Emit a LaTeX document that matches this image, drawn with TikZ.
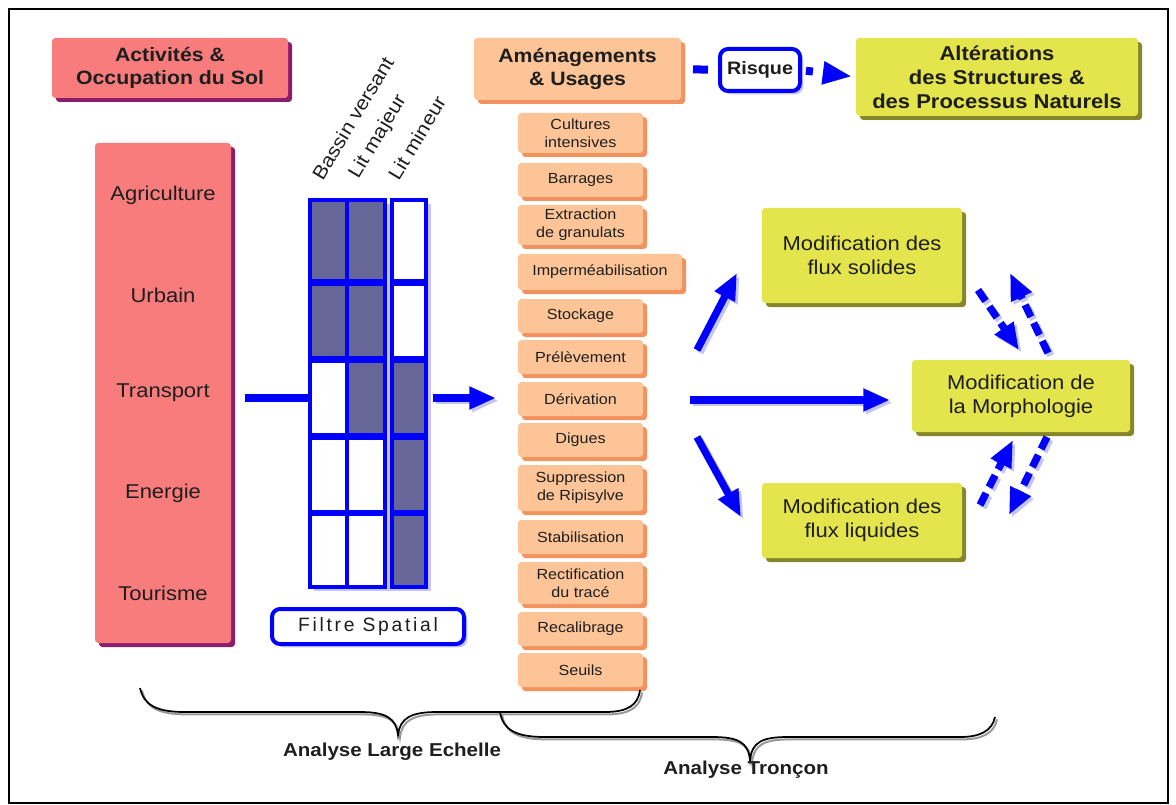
\documentclass[tikz,border=0pt]{standalone}
\usepackage{fontspec}
\setmainfont{Liberation Sans}[FakeStretch=1.1]
\newfontfamily\spacedfont{Liberation Sans}[LetterSpace=14]
\usetikzlibrary{shadows,arrows.meta,calc}
\definecolor{pinkc}{HTML}{F87C7C}
\definecolor{pinksh}{HTML}{8C1C6C}
\definecolor{orc}{HTML}{FDC597}
\definecolor{orsh}{HTML}{F3925E}
\definecolor{yelc}{HTML}{E4E44C}
\definecolor{yelsh}{HTML}{86862A}
\definecolor{dk}{HTML}{666699}
\definecolor{bl}{HTML}{0000FF}
\definecolor{shbl}{HTML}{C4C4F6}
\definecolor{txt}{HTML}{1E1E1E}
\begin{document}
\begin{tikzpicture}[x=0.75pt,y=-0.75pt,
  wh/.style 2 args={minimum width=#1*0.75pt, minimum height=#2*0.75pt},
  base/.style={inner sep=0pt, outer sep=0pt, align=center, anchor=north west, rounded corners=2.5pt, text=txt},
  pinkbox/.style={base, fill=pinkc, drop shadow={shadow xshift=3pt,shadow yshift=-3pt,fill=pinksh,opacity=1}},
  orbox/.style={base, fill=orc, drop shadow={shadow xshift=3pt,shadow yshift=-3pt,fill=orsh,opacity=1}},
  yelbox/.style={base, fill=yelc, drop shadow={shadow xshift=3pt,shadow yshift=-3pt,fill=yelsh,opacity=1}},
  bluebox/.style={base, fill=white, draw=bl, line width=3pt, rounded corners=6pt, drop shadow={shadow xshift=2.5pt,shadow yshift=-2.5pt,fill=shbl,opacity=1}},
  head/.style={font=\bfseries\fontsize{14.5}{17.5}\selectfont},
  item/.style={orbox, font=\fontsize{11}{13.5}\selectfont},
  mod/.style={yelbox, font=\fontsize{15}{18}\selectfont},
  lab/.style={font=\fontsize{15}{18}\selectfont, text=txt},
  rot/.style={font=\fontsize{14.5}{16}\selectfont, rotate=59, anchor=south west, inner sep=0pt, text=txt},
  cell/.style={draw=bl, line width=3pt, inner sep=0pt, outer sep=0pt, anchor=north west},
  arr/.style={draw=bl, line width=5.5pt, -{Triangle[length=20pt,width=16pt]}},
  arrsh/.style={draw=shbl, line width=5.5pt, -{Triangle[length=20pt,width=16pt]}, transform canvas={shift={(2pt,-2pt)}}},
  darr/.style={arr, dash pattern=on 10pt off 5pt},
  darrsh/.style={arrsh, dash pattern=on 10pt off 5pt},
  brace/.style={draw=black, line width=1.3pt},
  bracesh/.style={draw=black!40, line width=1.5pt, transform canvas={shift={(1.5pt,-1.8pt)}}},
  blab/.style={font=\bfseries\fontsize{14}{17}\selectfont, text=txt}
]
\useasboundingbox (0,0) rectangle (1176,805);
\draw[line width=2.2pt] (9,9) rectangle (1168,803);

% headings
\node[pinkbox, head, wh={236}{60}] (act) at (52,38) {Activités \&\\Occupation du Sol};
\node[orbox, head, wh={207}{62}] (amen) at (474,38) {Aménagements\\\& Usages};
\node[bluebox, wh={80}{42}, font=\bfseries\fontsize{13.5}{15}\selectfont] (risque) at (720,49) {Risque};
\node[yelbox, head, font=\bfseries\fontsize{15}{18}\selectfont, wh={282}{78}] (alter) at (856,38) {Altérations\\des Structures \&\\des Processus Naturels};

% top dashed connectors
\draw[draw=bl, line width=6pt, dash pattern=on 0pt off 9pt on 11.25pt off 40pt] (amen.east) -- (risque.west);
\draw[draw=bl, line width=6pt, dash pattern=on 0pt off 4.5pt on 5.25pt off 30pt,
  -{Triangle[length=22pt,width=16pt]}, shorten >=3pt] (risque.east) -- (alter.west);

% left activity column
\node[pinkbox, wh={136}{500}] (occ) at (95,143) {};
\node[lab] (ag) at (163,195) {Agriculture};
\node[lab] (ur) at (163,295) {Urbain};
\node[lab] (tr) at (163,393) {Transport};
\node[lab] (en) at (163,493) {Energie};
\node[lab] (to) at (163,593) {Tourisme};

% rotated headers
\node[rot] (bv) at (323,182) {Bassin versant};
\node[rot] (lma) at (362,182) {Lit majeur};
\node[rot] (lmi) at (399,182) {Lit mineur};

% grid
\fill[shbl] (314,204) rectangle (431,591);
\node[cell, fill=dk, wh={37}{81}] (c11) at (310,200) {};
\node[cell, fill=dk, wh={38}{81}] (c12) at (347,200) {};
\node[cell, fill=white, wh={34}{81}] (c13) at (392,200) {};
\node[cell, fill=dk, wh={37}{74}] (c21) at (310,284) {};
\node[cell, fill=dk, wh={38}{74}] (c22) at (347,284) {};
\node[cell, fill=white, wh={34}{74}] (c23) at (392,284) {};
\node[cell, fill=white, wh={37}{74}] (c31) at (310,361) {};
\node[cell, fill=dk, wh={38}{74}] (c32) at (347,361) {};
\node[cell, fill=dk, wh={34}{74}] (c33) at (392,361) {};
\node[cell, fill=white, wh={37}{74}] (c41) at (310,438) {};
\node[cell, fill=white, wh={38}{74}] (c42) at (347,438) {};
\node[cell, fill=dk, wh={34}{74}] (c43) at (392,438) {};
\node[cell, fill=white, wh={37}{73}] (c51) at (310,514) {};
\node[cell, fill=white, wh={38}{73}] (c52) at (347,514) {};
\node[cell, fill=dk, wh={34}{73}] (c53) at (392,514) {};

\node[bluebox, wh={192}{35}, font=\spacedfont\fontsize{14.5}{16}\selectfont] (filtre) at (272,609) {Filtre Spatial};

% arrows around grid
\coordinate (lin) at (245,398);
\draw[draw=bl, line width=5.5pt] (lin |- c31.west) -- (c31.west);
\coordinate (rin) at ($(c33.east)+(7,0)$);
\coordinate (rout) at ($(c33.east)+(70,0)$);
\draw[arrsh] (rin) -- (rout);
\draw[arr] (rin) -- (rout);

% items
\node[item, wh={125}{40}] (i1) at (518,113) {Cultures\\intensives};
\node[item, wh={125}{34}] (i2) at (518,163) {Barrages};
\node[item, wh={125}{40}] (i3) at (518,205) {Extraction\\de granulats};
\node[item, wh={164}{36}] (i4) at (518,254) {Imperméabilisation};
\node[item, wh={125}{34}] (i5) at (518,299) {Stockage};
\node[item, wh={125}{34}] (i6) at (518,340) {Prélèvement};
\node[item, wh={125}{34}] (i7) at (518,382) {Dérivation};
\node[item, wh={125}{34}] (i8) at (518,423) {Digues};
\node[item, wh={125}{46}] (i9) at (518,465) {Suppression\\de Ripisylve};
\node[item, wh={125}{34}] (i10) at (518,520) {Stabilisation};
\node[item, wh={125}{42}] (i11) at (518,562) {Rectification\\du tracé};
\node[item, wh={125}{34}] (i12) at (518,612) {Recalibrage};
\node[item, wh={125}{34}] (i13) at (518,653) {Seuils};

% modification boxes
\node[mod, wh={200}{95}] (fs) at (762,208) {Modification des\\flux solides};
\node[mod, wh={218}{72}] (morph) at (912,360) {Modification de\\la Morphologie};
\node[mod, wh={200}{75}] (fl) at (762,483) {Modification des\\flux liquides};

% solid arrows
\coordinate (a1s) at (697,350); \coordinate (a1e) at (737,273);
\coordinate (a2s) at (690,400); \coordinate (a2e) at (890,400);
\coordinate (a3s) at (697,437); \coordinate (a3e) at (741,517);
\foreach \s/\e in {a1s/a1e,a2s/a2e,a3s/a3e}{\draw[arrsh] (\s) -- (\e);}
\foreach \s/\e in {a1s/a1e,a2s/a2e,a3s/a3e}{\draw[arr] (\s) -- (\e);}

% dashed arrows
\coordinate (b1s) at (978,290); \coordinate (b1e) at (1019,350);
\coordinate (b2s) at (1048,353); \coordinate (b2e) at (1010,273);
\coordinate (b3s) at (980,505); \coordinate (b3e) at (1013,440);
\coordinate (b4s) at (1047,437); \coordinate (b4e) at (1009,515);
\foreach \s/\e in {b1s/b1e,b2s/b2e,b3s/b3e,b4s/b4e}{\draw[darrsh] (\s) -- (\e);}
\foreach \s/\e in {b1s/b1e,b2s/b2e,b3s/b3e,b4s/b4e}{\draw[darr] (\s) -- (\e);}

% braces
\def\braceA{(140,688) .. controls (144,706) and (158,712) .. (185,712) -- (360,712) .. controls (386,712) and (396,718) .. (398,735) .. controls (400,718) and (411,712) .. (437,712) -- (605,712) .. controls (628,712) and (638,705) .. (640,690)}
\def\braceB{(500,712) .. controls (503,730) and (516,737) .. (545,737) -- (712,737) .. controls (738,737) and (748,742) .. (750,760) .. controls (752,742) and (762,737) .. (788,737) -- (960,737) .. controls (980,737) and (992,731) .. (995,717)}
\draw[bracesh] \braceA;
\draw[brace] \braceA;
\draw[bracesh] \braceB;
\draw[brace] \braceB;
\node[blab] (ale) at (392,752) {Analyse Large Echelle};
\node[blab] (atr) at (746,770) {Analyse Tronçon};
\end{tikzpicture}
\end{document}
